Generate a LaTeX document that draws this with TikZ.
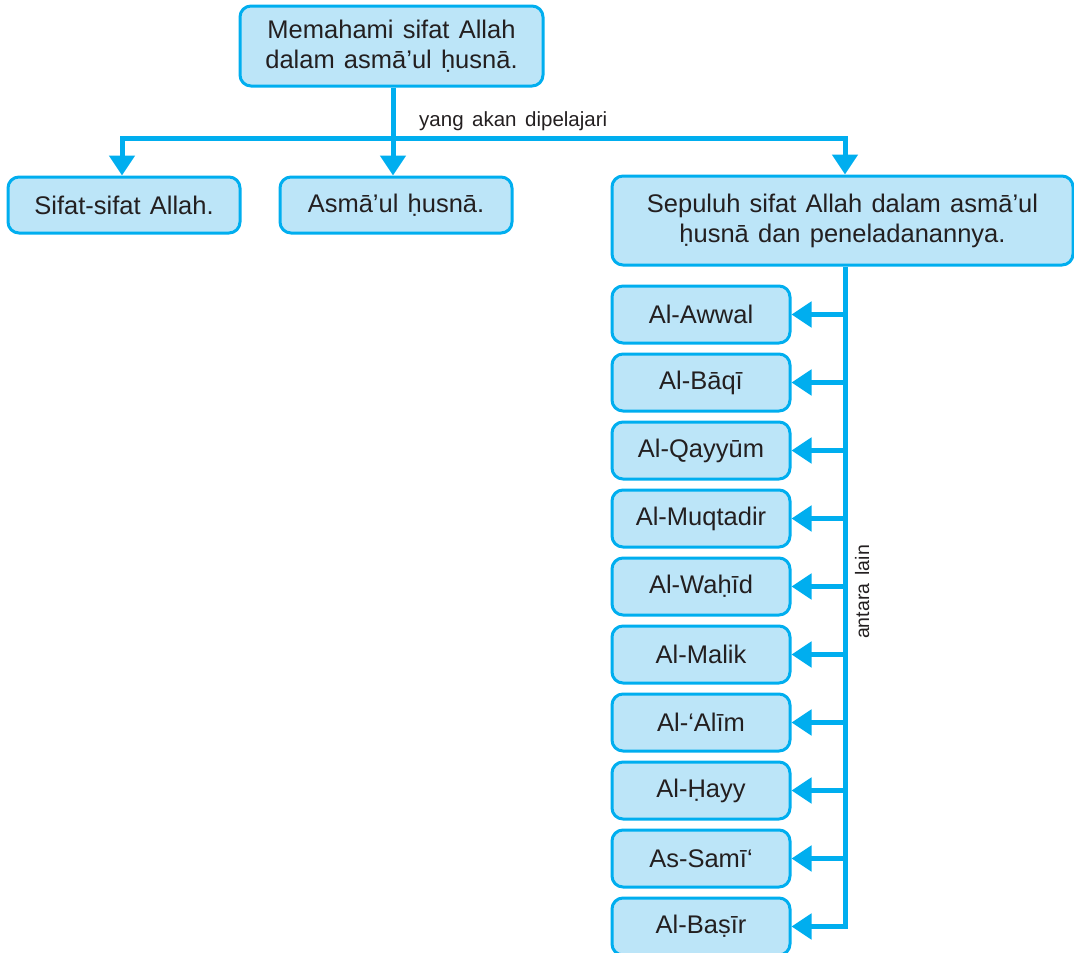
\documentclass[tikz,border=0pt]{standalone}
\usepackage{fontspec}
\setmainfont{Liberation Sans}[WordSpace=1.3]
\newfontfamily\lblfont{Liberation Sans}[WordSpace=1.5]
\usetikzlibrary{arrows.meta,calc}
\definecolor{cyanline}{HTML}{00AEEF}
\definecolor{boxfill}{HTML}{BCE5F8}
\definecolor{txt}{HTML}{231F20}
\begin{document}
\begin{tikzpicture}[x=1pt,y=-1pt,
  box/.style={draw=cyanline, fill=boxfill, line width=3pt, rounded corners=11pt,
    text=txt, align=center, inner sep=0pt, font=\fontsize{25.5}{30}\selectfont},
  small/.style={box, minimum width=178pt, minimum height=57pt},
  conn/.style={draw=cyanline, line width=5pt},
  arr/.style={conn, -{Triangle[length=20pt,width=25pt]}},
  lbl/.style={text=txt, inner sep=0pt, font=\lblfont\fontsize{20.5}{22}\selectfont}]
\useasboundingbox (0,0) rectangle (1074,953);

\node[box, minimum width=303pt, minimum height=80pt] (top) at (391.5,46) {Memahami sifat Allah\\dalam asmā’ul ḥusnā.};
\node[box, minimum width=232pt, minimum height=56pt] (sifat) at (124,205) {Sifat-sifat Allah.};
\node[box, minimum width=232pt, minimum height=56pt] (asma) at (396,205) {Asmā’ul ḥusnā.};
\node[box, minimum width=461pt, minimum height=89pt] (sep) at (842.5,220.5) {Sepuluh sifat Allah dalam asmā’ul\\ḥusnā dan peneladanannya.};

\node[small] (b1) at (701,314.5) {Al-Awwal};
\node[small] (b2) at (701,382.5) {Al-Bāqī};
\node[small] (b3) at (701,450.5) {Al-Qayyūm};
\node[small] (b4) at (701,518.5) {Al-Muqtadir};
\node[small] (b5) at (701,586.5) {Al-Waḥīd};
\node[small] (b6) at (701,654.5) {Al-Malik};
\node[small] (b7) at (701,722.5) {Al-‘Alīm};
\node[small] (b8) at (701,790.5) {Al-Ḥayy};
\node[small] (b9) at (701,858.5) {As-Samī‘};
\node[small] (b10) at (701,926.5) {Al-Baṣīr};

\coordinate (j0) at (393,138);
\coordinate (jL) at (122,138);
\coordinate (jR) at (845,138);

\draw[arr] (top.south -| j0) -- (j0 |- asma.north);
\draw[arr] (j0) -- (jL) -- (jL |- sifat.north);
\draw[arr] (j0) -- (jR) -- (jR |- sep.north);

\draw[arr] (sep.south -| jR) -- (jR |- b10.east) -- (b10.east);
\foreach \i in {1,...,9} {
  \draw[arr] (jR |- b\i.east) -- (b\i.east);
}

\node[lbl, anchor=base west] (l1) at (419,126) {yang akan dipelajari};
\node[lbl, anchor=base, rotate=90, font=\lblfont\fontsize{19.5}{22}\selectfont] (l2) at (869,592) {antara lain};
\end{tikzpicture}
\end{document}
